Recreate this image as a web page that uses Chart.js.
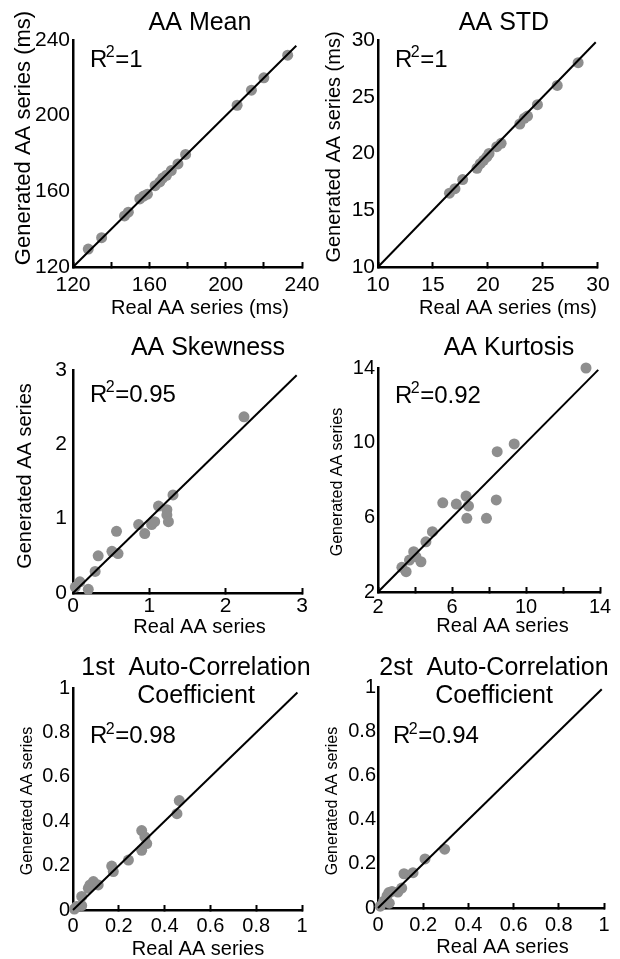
<!DOCTYPE html>
<html>
<head>
<meta charset="utf-8">
<title>AA series: real vs generated</title>
<script src="https://cdn.jsdelivr.net/npm/chart.js@4.4.1/dist/chart.umd.min.js"></script>
<style>
  html, body { margin: 0; padding: 0; background: #fff; }
  #fig { position: relative; width: 620px; height: 959px; overflow: hidden; }
  #fig canvas { position: absolute; }
</style>
</head>
<body>
<div id="fig"></div>
<script>
/* ---------- data: real (x) vs generated (y) statistic, one pair per recording ---------- */
const meanReal = [128, 135, 147, 149, 155, 157, 159, 163, 165.5, 167, 169, 171.5, 175, 179, 206, 213.5, 220, 232.5];
const meanGen  = [129.5, 135.5, 147, 149, 156, 157.5, 158.5, 163, 165, 167, 168.5, 171, 174.5, 179.5, 205.5, 213.5, 220, 232];

const stdReal = [16.5, 17, 17.7, 19.0, 19.3, 19.6, 19.9, 20.1, 20.8, 21.2, 22.9, 23.3, 23.6, 24.5, 26.3, 28.2];
const stdGen  = [16.5, 16.9, 17.7, 18.7, 19.1, 19.4, 19.7, 20.0, 20.6, 20.9, 22.6, 23.1, 23.3, 24.3, 26.0, 28.0];

const skewReal = [0.03, 0.09, 0.20, 0.29, 0.33, 0.51, 0.59, 0.57, 0.86, 0.94, 1.03, 1.07, 1.12, 1.23, 1.23, 1.25, 1.31, 2.24];
const skewGen  = [0.08, 0.15, 0.05, 0.29, 0.50, 0.56, 0.53, 0.83, 0.92, 0.80, 0.92, 0.96, 1.17, 1.12, 1.05, 0.96, 1.32, 2.37];

const kurtReal = [3.29, 3.52, 3.70, 3.93, 4.05, 4.32, 4.59, 4.94, 5.50, 6.23, 6.76, 6.89, 6.80, 7.86, 8.39, 8.44, 9.36, 13.24];
const kurtGen  = [3.32, 3.09, 3.71, 4.16, 3.89, 3.62, 4.69, 5.23, 6.78, 6.71, 7.14, 6.61, 5.95, 5.95, 6.93, 9.52, 9.93, 14.0];

const ac1Real = [0.006, 0.016, 0.038, 0.038, 0.067, 0.074, 0.089, 0.11, 0.169, 0.176, 0.242, 0.30, 0.30, 0.314, 0.322, 0.454, 0.464];
const ac1Gen  = [0.004, 0.016, 0.02, 0.061, 0.098, 0.113, 0.128, 0.113, 0.198, 0.173, 0.225, 0.269, 0.358, 0.329, 0.299, 0.434, 0.493];

const ac2Real = [0.01, 0.025, 0.04, 0.05, 0.048, 0.062, 0.088, 0.105, 0.115, 0.155, 0.208, 0.295];
const ac2Gen  = [0.008, 0.03, 0.055, 0.022, 0.07, 0.075, 0.072, 0.09, 0.155, 0.16, 0.222, 0.266];

const realSeries = [meanReal, stdReal, skewReal, kurtReal, ac1Real, ac2Real];
const genSeries  = [meanGen, stdGen, skewGen, kurtGen, ac1Gen, ac2Gen];

/* ---------- axes, labels ---------- */
const meanTickLabels = [120, 160, 200, 240];
const stdTickLabels  = [10, 15, 20, 25, 30];
const skewTickLabels = [0, 1, 2, 3];
const kurtTickLabels = [2, 6, 10, 14];
const acTickLabels   = [0, 0.2, 0.4, 0.6, 0.8, 1];
const tickLabels = [meanTickLabels, stdTickLabels, skewTickLabels, kurtTickLabels, acTickLabels, acTickLabels];

const axisRanges = [[120, 240], [10, 30], [0, 3], [2, 14], [0, 1], [0, 1]];
const markSteps  = [20, 5, 1, 2, 0.2, 0.2];           // spacing of the x tick marks
const diagEnds   = [237, 29.8, 2.93, 13.9, 0.98, 0.99]; // where the y = x line stops

const panelTitles = [
  ['AA Mean'], ['AA STD'], ['AA Skewness'], ['AA Kurtosis'],
  ['1st  Auto-Correlation', 'Coefficient'], ['2st  Auto-Correlation', 'Coefficient'],
];
const r2Values = ['1', '1', '0.95', '0.92', '0.98', '0.94'];
const xTitles = ['Real AA series (ms)', 'Real AA series (ms)', 'Real AA series', 'Real AA series', 'Real AA series', 'Real AA series'];
const yTitles = ['Generated AA series (ms)', 'Generated AA series (ms)', 'Generated AA series', 'Generated AA series', 'Generated AA series', 'Generated AA series'];

/* ---------- page layout (px, canvas-relative unless noted) ---------- */
// box: [left, top, width, height] on the page; area: plot rect [left, top, right, bottom]
const panelLayout = [
  { box: [0, 0, 330, 320],     area: [73, 40, 302, 267], tickFont: 21, xPad: 10.4, yPad: 3, titleAt: [200, 30], r2At: [90, 66.7],  xTitleAt: [200, 314],   yTitleAt: [24, 138], yTitleSize: 22 },
  { box: [305, 0, 315, 320],   area: [73, 40, 299, 267], tickFont: 21, xPad: 10.4, yPad: 3, titleAt: [199, 30], r2At: [90, 66.7],  xTitleAt: [203, 314],   yTitleAt: [29, 147], yTitleSize: 20 },
  { box: [0, 310, 330, 330],   area: [73, 60, 302, 283], tickFont: 21, xPad: 6,    yPad: 6, titleAt: [208, 45], r2At: [90, 91.7],  xTitleAt: [199.5, 323], yTitleAt: [25, 166], yTitleSize: 20 },
  { box: [305, 310, 315, 330], area: [73, 58, 299, 282], tickFont: 20, xPad: 8.8,  yPad: 3, titleAt: [204, 45], r2At: [90, 92.7],  xTitleAt: [197.5, 321.5], yTitleAt: [33, 172], yTitleSize: 16 },
  { box: [0, 640, 330, 319],   area: [73, 48, 302, 270], tickFont: 20, xPad: 9.7,  yPad: 3, titleAt: [196, 35], r2At: [90, 103.3], xTitleAt: [198, 315],   yTitleAt: [28, 161], yTitleSize: 16 },
  { box: [305, 640, 315, 319], area: [73, 47, 299, 268], tickFont: 20, xPad: 10,   yPad: 2, titleAt: [189, 35], r2At: [88, 103.3], xTitleAt: [197.5, 313], yTitleAt: [28, 161], yTitleSize: 16 },
];

const FONT = '"Liberation Sans", Arial, Helvetica, sans-serif';
const DOT = '#8e8e8e';
const INK = '#000';

// panel title, R² note and axis titles
const panelText = {
  id: 'panelText',
  afterDraw(chart, _args, o) {
    const ctx = chart.ctx;
    ctx.save();
    ctx.fillStyle = INK;
    ctx.textBaseline = 'alphabetic';

    ctx.textAlign = 'center';
    ctx.font = `25px ${FONT}`;
    o.title.forEach((line, i) => ctx.fillText(line, o.titleAt[0], o.titleAt[1] + i * 28));

    let [x, y] = o.r2At;
    ctx.textAlign = 'left';
    ctx.font = `24px ${FONT}`;
    ctx.fillText('R', x, y);
    x += ctx.measureText('R').width - 1.5;
    ctx.font = `16px ${FONT}`;
    ctx.fillText('2', x, y - 9.5);
    x += ctx.measureText('2').width + 0.5;
    ctx.font = `24px ${FONT}`;
    ctx.fillText('=' + o.r2, x, y);

    ctx.textAlign = 'center';
    ctx.font = `20px ${FONT}`;
    ctx.fillText(o.xTitle, o.xTitleAt[0], o.xTitleAt[1]);

    ctx.translate(o.yTitleAt[0], o.yTitleAt[1]);
    ctx.rotate(-Math.PI / 2);
    ctx.textBaseline = 'middle';
    ctx.font = `${o.yTitleSize}px ${FONT}`;
    ctx.fillText(o.yTitle, 0, 0);
    ctx.restore();
  },
};

const labelFor = (labels) => (v) => {
  const hit = labels.find((t) => Math.abs(t - v) < 1e-6);
  return hit === undefined ? '' : String(hit);
};

function drawPanel(i) {
  const L = panelLayout[i];
  const [bx, by, bw, bh] = L.box;
  const [al, at, ar, ab] = L.area;
  const [lo, hi] = axisRanges[i];
  const labels = tickLabels[i];

  const cv = document.createElement('canvas');
  cv.width = bw;
  cv.height = bh;
  cv.style.left = bx + 'px';
  cv.style.top = by + 'px';
  cv.style.width = bw + 'px';
  cv.style.height = bh + 'px';
  document.getElementById('fig').appendChild(cv);

  const points = realSeries[i].map((x, k) => ({ x, y: genSeries[i][k] }));
  const tickFont = { family: FONT, size: L.tickFont };

  new Chart(cv, {
    type: 'scatter',
    data: {
      datasets: [
        {
          data: [{ x: lo, y: lo }, { x: diagEnds[i], y: diagEnds[i] }],
          showLine: true, borderColor: INK, borderWidth: 2, pointRadius: 0, order: 0, clip: false,
        },
        {
          data: points,
          pointRadius: 5.5, pointBackgroundColor: DOT, pointBorderWidth: 0, order: 1, clip: false,
        },
      ],
    },
    options: {
      responsive: false, animation: false, events: [],
      layout: { padding: { left: 0, top: at, right: bw - ar, bottom: 0 } },
      plugins: {
        legend: { display: false }, tooltip: { enabled: false },
        panelText: {
          title: panelTitles[i], titleAt: L.titleAt, r2: r2Values[i], r2At: L.r2At,
          xTitle: xTitles[i], xTitleAt: L.xTitleAt, yTitle: yTitles[i], yTitleAt: L.yTitleAt, yTitleSize: L.yTitleSize,
        },
      },
      scales: {
        x: {
          type: 'linear', min: lo, max: hi,
          afterFit: (s) => { s.height = bh - ab; },
          border: { display: true, color: INK, width: 2.5 },
          grid: { drawOnChartArea: false, drawTicks: true, tickLength: -5, tickWidth: 2, tickColor: INK },
          ticks: { stepSize: markSteps[i], autoSkip: false, maxRotation: 0, color: INK, font: tickFont, padding: L.xPad, callback: labelFor(labels) },
        },
        y: {
          type: 'linear', min: lo, max: hi,
          afterFit: (s) => { s.width = al; },
          border: { display: true, color: INK, width: 2.5 },
          grid: { drawOnChartArea: false, drawTicks: false },
          ticks: { stepSize: labels[1] - labels[0], autoSkip: false, color: INK, font: tickFont, padding: L.yPad, callback: labelFor(labels) },
        },
      },
    },
    plugins: [panelText],
  });
}

panelLayout.forEach((_, i) => drawPanel(i));
</script>
</body>
</html>
